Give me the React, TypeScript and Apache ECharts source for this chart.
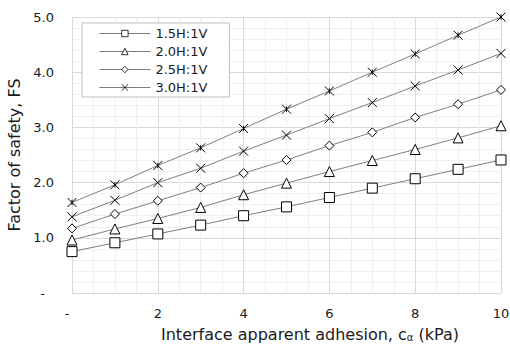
import React, { useEffect, useRef } from "react";
import * as echarts from "echarts";

// Interface apparent adhesion c_alpha (kPa)
const adhesion = [0, 1, 2, 3, 4, 5, 6, 7, 8, 9, 10];

// Factor of safety for each slope ratio
const fs15 = [0.75, 0.91, 1.07, 1.23, 1.4, 1.56, 1.73, 1.9, 2.07, 2.24, 2.41];
const fs20 = [0.96, 1.16, 1.35, 1.55, 1.78, 1.99, 2.2, 2.4, 2.6, 2.81, 3.03];
const fs25 = [1.17, 1.43, 1.67, 1.91, 2.17, 2.41, 2.67, 2.91, 3.18, 3.42, 3.68];
const fs30 = [1.38, 1.68, 2.0, 2.26, 2.57, 2.86, 3.16, 3.45, 3.75, 4.04, 4.34];
const fsTop = [1.64, 1.96, 2.31, 2.63, 2.98, 3.33, 3.66, 4.0, 4.33, 4.67, 5.0];

const legendNames = ["1.5H:1V", "2.0H:1V", "2.5H:1V", "3.0H:1V"];
const yTicks = [0, 1, 2, 3, 4, 5];
const xTicks = [0, 2, 4, 6, 8, 10];

const FONT = "DejaVu Sans";
const CROSS = "path://M0,0L10,10M10,0L0,10";
const STAR = "path://M0,0L10,10M10,0L0,10M5,2L5,8";

const pairs = (ys: number[]) => adhesion.map((x, i) => [x, ys[i]]);

function lineSeries(name: string | undefined, ys: number[], symbol: string, size: number) {
  return {
    type: "line",
    name,
    data: pairs(ys),
    symbol,
    symbolSize: size,
    showAllSymbol: true,
    lineStyle: { color: "#808080", width: 1 },
    itemStyle: { color: "#ffffff", borderColor: "#000000", borderWidth: 1 },
    emphasis: { disabled: true },
    z: 3,
  };
}

export default function App() {
  const ref = useRef<HTMLDivElement>(null);

  useEffect(() => {
    if (!ref.current) return;
    const chart = echarts.init(ref.current, null, { renderer: "svg" });
    chart.setOption({
      animation: false,
      backgroundColor: "#ffffff",
      textStyle: { fontFamily: FONT, color: "#1a1a1a" },
      grid: { left: 72, right: 9, top: 17, bottom: 52, containLabel: false, outerBoundsMode: "none" },
      legend: {
        data: legendNames,
        orient: "vertical",
        left: 82,
        top: 23,
        width: 156,
        padding: [4, 22, 3, 17],
        itemGap: 5,
        itemWidth: 51,
        itemHeight: 8,
        itemTextGap: 10,
        backgroundColor: "#ffffff",
        borderColor: "#bfbfbf",
        borderWidth: 1,
        borderRadius: 0,
        itemStyle: { color: "#ffffff", borderColor: "#000000", borderWidth: 0.8 },
        lineStyle: { color: "#595959", width: 0.8 },
        textStyle: { fontFamily: FONT, fontSize: 13, color: "#1a1a1a" },
      },
      xAxis: {
        type: "value",
        min: 0,
        max: 10,
        interval: 2,
        name: "Interface apparent adhesion, c{s|α} (kPa)",
        nameLocation: "middle",
        nameGap: 33,
        nameTextStyle: {
          fontFamily: FONT,
          fontSize: 16,
          color: "#1a1a1a",
          padding: [0, 0, 0, 47],
          rich: {
            s: { fontFamily: FONT, fontSize: 10, verticalAlign: "bottom", padding: [6, 0, 0, 0], color: "#1a1a1a" },
          },
        },
        axisLine: { show: false },
        axisTick: { show: false },
        axisLabel: {
          margin: 14,
          fontFamily: FONT,
          fontSize: 13,
          color: "#1a1a1a",
          formatter: (v: number) => (v === 0 ? "{d|-}" : xTicks.includes(v) ? String(v) : ""),
          rich: { d: { fontFamily: FONT, fontSize: 13, color: "#1a1a1a", padding: [0, 10, 0, 0] } },
        },
        splitLine: { show: true, lineStyle: { color: "#d9d9d9", width: 1 } },
        minorTick: { show: false, splitNumber: 4 },
        minorSplitLine: { show: true, lineStyle: { color: "#efefef", width: 1 } },
      },
      yAxis: {
        type: "value",
        min: 0,
        max: 5,
        interval: 1,
        name: "Factor of safety, FS",
        nameLocation: "middle",
        nameGap: 45,
        nameTextStyle: { fontFamily: FONT, fontSize: 16, color: "#1a1a1a" },
        axisLine: { show: false },
        axisTick: { show: false },
        axisLabel: {
          margin: 18,
          fontFamily: FONT,
          fontSize: 13,
          color: "#1a1a1a",
          formatter: (v: number) => (v === 0 ? "{d|-}" : yTicks.includes(v) ? v.toFixed(1) : ""),
          rich: { d: { fontFamily: FONT, fontSize: 13, color: "#1a1a1a", padding: [0, 9, 0, 0] } },
        },
        splitLine: { show: true, lineStyle: { color: "#d9d9d9", width: 1 } },
        minorTick: { show: false, splitNumber: 5 },
        minorSplitLine: { show: true, lineStyle: { color: "#efefef", width: 1 } },
      },
      series: [
        lineSeries(legendNames[0], fs15, "rect", 10),
        lineSeries(legendNames[1], fs20, "triangle", 10),
        lineSeries(legendNames[2], fs25, "diamond", 9),
        lineSeries(legendNames[3], fs30, CROSS, 9),
        lineSeries(undefined, fsTop, STAR, 9),
      ],
    });
    return () => chart.dispose();
  }, []);

  return <div ref={ref} style={{ width: 510, height: 345, position: "absolute", left: 0, top: 0 }} />;
}
